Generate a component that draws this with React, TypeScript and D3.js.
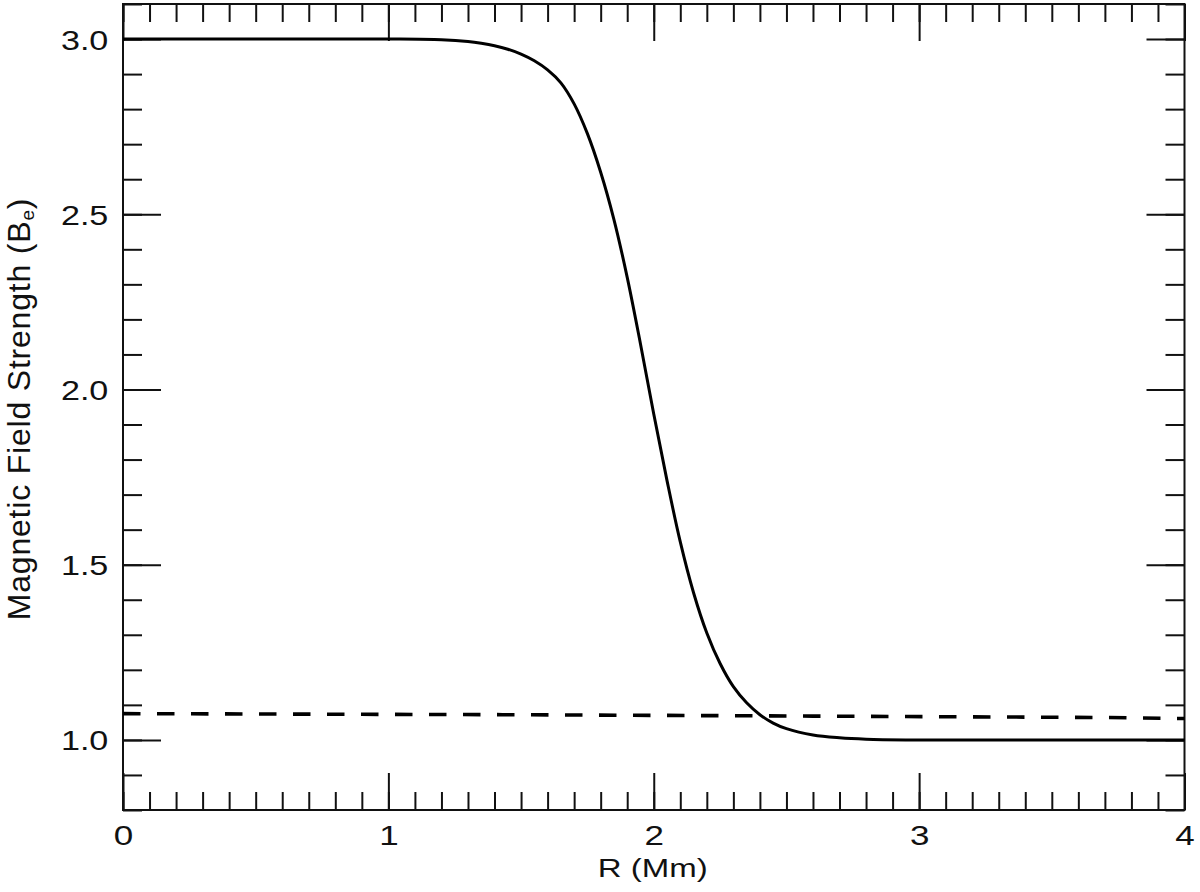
import { useEffect, useRef } from 'react';
import * as d3 from 'd3';

// solid curve: magnetic field strength vs radius
const radius = [0, 0.5, 1.0, 1.2, 1.3, 1.35, 1.4, 1.45, 1.5, 1.55, 1.6, 1.65, 1.7, 1.75, 1.8, 1.85, 1.9, 1.95, 2.0, 2.05, 2.1, 2.15, 2.2, 2.25, 2.3, 2.35, 2.4, 2.45, 2.5, 2.6, 2.7, 2.8, 2.95, 3.2, 3.6, 4.0];
const fieldStrength = [3.0, 3.0, 3.0, 2.998, 2.993, 2.988, 2.981, 2.971, 2.957, 2.938, 2.912, 2.875, 2.815, 2.73, 2.62, 2.485, 2.32, 2.13, 1.93, 1.74, 1.565, 1.42, 1.305, 1.218, 1.152, 1.106, 1.072, 1.048, 1.032, 1.014, 1.006, 1.002, 1.0, 1.0, 1.0, 1.0];

// dashed curve
const dashRadius = [0, 1.43, 2.6, 3.7, 4.0];
const dashStrength = [1.075, 1.072, 1.068, 1.064, 1.061];

const xMajorTicks = [0, 1, 2, 3, 4];
const yMajorTicks = [1.0, 1.5, 2.0, 2.5, 3.0];

const FONT = '"Liberation Sans", Arial, Helvetica, sans-serif';

const MagneticChart = () => {
  const svgRef = useRef<SVGSVGElement>(null);

  useEffect(() => {
    if (!svgRef.current) return;
    const width = 1200;
    const height = 892;
    const left = 123, right = 1184.5, top = 4, bottom = 810;

    const svg = d3.select(svgRef.current);
    svg.selectAll('*').remove();
    svg.attr('width', width).attr('height', height);

    const x = d3.scaleLinear().domain([0, 4]).range([left, right]);
    const y = d3.scaleLinear().domain([0.8, 3.1]).range([bottom, top]);

    const xMinor = d3.range(0, 41).map(i => i / 10);
    const yMinor = d3.range(8, 32).map(i => i / 10);

    const styleAxis = (g: any) => {
      g.select('.domain').remove();
      g.selectAll('line').attr('stroke', '#111').attr('stroke-width', 2);
    };

    // minor ticks, all four sides
    svg.append('g').attr('transform', `translate(0,${bottom})`)
      .call(d3.axisBottom(x).tickValues(xMinor).tickSize(-18).tickSizeOuter(0).tickFormat(() => ''))
      .call(styleAxis);
    svg.append('g').attr('transform', `translate(0,${top})`)
      .call(d3.axisTop(x).tickValues(xMinor).tickSize(-18).tickSizeOuter(0).tickFormat(() => ''))
      .call(styleAxis);
    svg.append('g').attr('transform', `translate(${left},0)`)
      .call(d3.axisLeft(y).tickValues(yMinor).tickSize(-19).tickSizeOuter(0).tickFormat(() => ''))
      .call(styleAxis);
    svg.append('g').attr('transform', `translate(${right},0)`)
      .call(d3.axisRight(y).tickValues(yMinor).tickSize(-19).tickSizeOuter(0).tickFormat(() => ''))
      .call(styleAxis);

    // major ticks
    const xAxis = svg.append('g').attr('transform', `translate(0,${bottom})`)
      .call(d3.axisBottom(x).tickValues(xMajorTicks).tickSize(-37).tickSizeOuter(0).tickPadding(15).tickFormat(d3.format('d')))
      .call(styleAxis);
    xAxis.selectAll('text')
      .attr('font-family', FONT)
      .attr('font-size', 28)
      .attr('fill', '#111')
      .attr('transform', 'scale(1.25,1)');

    svg.append('g').attr('transform', `translate(0,${top})`)
      .call(d3.axisTop(x).tickValues(xMajorTicks).tickSize(-37).tickSizeOuter(0).tickFormat(() => ''))
      .call(styleAxis);

    const yAxis = svg.append('g').attr('transform', `translate(${left},0)`)
      .call(d3.axisLeft(y).tickValues(yMajorTicks).tickSize(-38).tickSizeOuter(0).tickPadding(12).tickFormat(d3.format('.1f')))
      .call(styleAxis);
    yAxis.selectAll('text')
      .attr('font-family', FONT)
      .attr('font-size', 28)
      .attr('fill', '#111')
      .attr('dy', '0.36em')
      .attr('transform', 'scale(1.22,1)');

    svg.append('g').attr('transform', `translate(${right},0)`)
      .call(d3.axisRight(y).tickValues(yMajorTicks).tickSize(-38).tickSizeOuter(0).tickFormat(() => ''))
      .call(styleAxis);

    // frame
    svg.append('rect')
      .attr('x', left).attr('y', top)
      .attr('width', right - left).attr('height', bottom - top)
      .attr('fill', 'none').attr('stroke', '#111').attr('stroke-width', 2);

    // dashed line
    const dashData = dashRadius.map((r, i) => [r, dashStrength[i]] as [number, number]);
    svg.append('path')
      .datum(dashData)
      .attr('fill', 'none')
      .attr('stroke', '#000')
      .attr('stroke-width', 3.6)
      .attr('stroke-dasharray', '17.5,16.5')
      .attr('d', d3.line<[number, number]>().x(d => x(d[0])).y(d => y(d[1])));

    // solid curve
    const solidData = radius.map((r, i) => [r, fieldStrength[i]] as [number, number]);
    svg.append('path')
      .datum(solidData)
      .attr('fill', 'none')
      .attr('stroke', '#000')
      .attr('stroke-width', 3)
      .attr('stroke-linejoin', 'round')
      .attr('d', d3.line<[number, number]>().x(d => x(d[0])).y(d => y(d[1])).curve(d3.curveCatmullRom.alpha(0.5)));

    // axis titles
    svg.append('text')
      .attr('x', (left + right) / 2 - 1)
      .attr('y', 877)
      .attr('text-anchor', 'middle')
      .attr('font-family', FONT)
      .attr('font-size', 26)
      .attr('fill', '#111')
      .attr('textLength', 110)
      .attr('lengthAdjust', 'spacingAndGlyphs')
      .text('R (Mm)');

    const yTitle = svg.append('text')
      .attr('transform', `translate(30,${(top + bottom) / 2 + 2}) rotate(-90)`)
      .attr('text-anchor', 'middle')
      .attr('font-family', FONT)
      .attr('font-size', 32)
      .attr('letter-spacing', 0.8)
      .attr('fill', '#111');
    yTitle.append('tspan').text('Magnetic Field Strength (B');
    yTitle.append('tspan').attr('font-size', 19).attr('dy', 4).text('e');
    yTitle.append('tspan').attr('dy', -4).text(')');
  }, []);

  return <svg ref={svgRef} style={{ position: 'absolute', left: 0, top: 0, display: 'block', background: '#fff' }} />;
};

export default function App() {
  return <MagneticChart />;
}
